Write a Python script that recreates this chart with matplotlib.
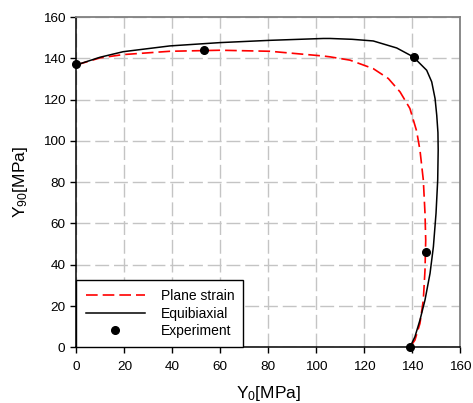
import matplotlib
matplotlib.use("Agg")
import matplotlib.pyplot as plt

plt.rcParams['font.family'] = ['Liberation Sans', 'DejaVu Sans']
plt.rcParams['mathtext.fontset'] = 'custom'
plt.rcParams['mathtext.rm'] = 'Liberation Sans'
plt.rcParams['mathtext.it'] = 'Liberation Sans'
plt.rcParams['mathtext.bf'] = 'Liberation Sans:bold'

# Equibiaxial (solid black)
equi_x = [0, 9.8, 19.5, 39, 59.9, 80.7, 103, 105.8, 115, 123.8, 133.6, 140.5, 146.1, 148.2, 149.6, 150.3, 150.8, 150.9, 150.7, 150.0, 148.9, 147.5, 145.4, 143.3, 141.2, 139.1]
equi_y = [136.8, 140.5, 143.2, 146.0, 147.6, 148.7, 149.6, 149.6, 149.2, 148.4, 145.0, 140.7, 134.2, 128.6, 120.5, 112.4, 104.0, 95.5, 81.0, 64.9, 48.7, 35.8, 22.9, 13.2, 5.1, 0.0]

# Plane strain (dashed red)
plane_x = [0, 9.8, 19.5, 39, 59.9, 80.7, 103, 105.8, 114.1, 123.8, 130.1, 135, 139.1, 141.9, 143.3, 144.7, 145.4, 145.7, 145.4, 144.7, 143.3, 141.2, 139.1]
plane_y = [136.8, 140.2, 141.8, 143.4, 143.9, 143.4, 141.1, 140.7, 139.1, 135.0, 130.2, 123.7, 115.7, 104.8, 95.5, 81.0, 64.9, 51.9, 37.4, 22.9, 11.6, 3.5, 0.0]

# Experiment points
exp_x = [0, 53.2, 140.7, 145.9, 139.1]
exp_y = [137.3, 143.9, 140.7, 46.0, 0.0]

xticks = [0, 20, 40, 60, 80, 100, 120, 140, 160]
yticks = [0, 20, 40, 60, 80, 100, 120, 140, 160]

fig = plt.figure(figsize=(4.73, 4.03), dpi=100)
ax = fig.add_axes([0.1617, 0.1382, 0.9725 - 0.1617, 0.9578 - 0.1382])

ax.set_xlim(0, 160)
ax.set_ylim(0, 160)
ax.set_xticks(xticks)
ax.set_yticks(yticks)
ax.grid(True, color='#c4c4c4', linewidth=1.0, linestyle=(0, (10, 3.5)))
ax.set_axisbelow(True)

ax.plot(plane_x, plane_y, color='#ff0000', linewidth=1.2, linestyle=(0, (7, 3)), label='Plane strain', zorder=3)
ax.plot(equi_x, equi_y, color='black', linewidth=1.1, label='Equibiaxial', zorder=3)
ax.plot(exp_x, exp_y, 'o', color='black', markersize=5.5, linestyle='none', label='Experiment', zorder=4, clip_on=False)

for s in ['top', 'right']:
    ax.spines[s].set_color('#808080')
    ax.spines[s].set_linewidth(1.3)
for s in ['left', 'bottom']:
    ax.spines[s].set_color('black')
    ax.spines[s].set_linewidth(1.1)

ax.tick_params(direction='out', length=4, width=1, labelsize=9.7, top=False, right=False)
ax.tick_params(axis='x', pad=6)
ax.tick_params(axis='y', pad=4)

ax.set_xlabel('Y$_{\\mathregular{0}}$[MPa]', fontsize=12.5, labelpad=8)
ax.set_ylabel('Y$_{\\mathregular{90}}$[MPa]', fontsize=12.5, labelpad=9)

leg = ax.legend(loc='lower left', bbox_to_anchor=(0, 0), borderaxespad=0, fancybox=False,
                edgecolor='black', framealpha=1, fontsize=10, handlelength=4.3,
                handletextpad=1.1, labelspacing=0.25, borderpad=0.65)
leg.get_frame().set_linewidth(1.0)

fig.savefig('out.png', dpi=100)
